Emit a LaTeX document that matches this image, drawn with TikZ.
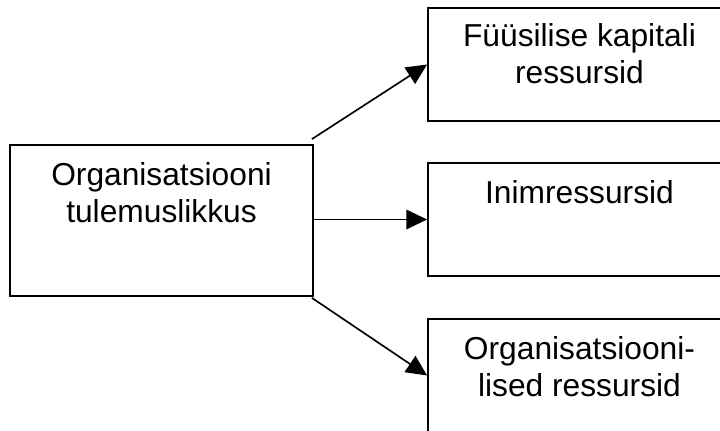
\documentclass[tikz,border=0pt]{standalone}
\usepackage{fontspec}
\setmainfont{Liberation Sans}
\usetikzlibrary{arrows.meta,calc}
\begin{document}
\begin{tikzpicture}[x=0.75pt,y=-0.75pt,
  box/.style={draw,line width=1.35pt,rectangle,inner sep=0pt},
  lbox/.style={box,minimum width=227.25pt,minimum height=113.25pt},
  rbox/.style={box,minimum width=227.25pt,minimum height=84.75pt},
  lbl/.style={anchor=north,inner sep=0pt,align=center,font=\fontsize{23.8pt}{27.5pt}\selectfont},
  arr/.style={line width=1.25pt,-{Triangle[length=15.5pt,width=14.5pt]}}]
\useasboundingbox (0,0) rectangle (720,430);
\node[lbox] (L) at (161.5,220.5) {};
\node[rbox] (R1) at (579.5,64.5) {};
\node[rbox] (R2) at (579.5,219.5) {};
\node[rbox] (R3) at (579.5,375.5) {};
\node[lbl] (Lt) at ($(L.north)+(0,18)$) {Organisatsiooni\\tulemuslikkus};
\node[lbl] (R1t) at ($(R1.north)+(0,16)$) {Füüsilise kapitali\\ressursid};
\node[lbl] (R2t) at ($(R2.north)+(0,18)$) {Inimressursid};
\node[lbl] (R3t) at ($(R3.north)+(0,18)$) {Organisatsiooni-\\lised ressursid};
\coordinate (a1) at ($(L.north east)+(-2,-5)$);
\coordinate (a3) at ($(L.south east)+(-2,1)$);
\draw[arr] (a1) -- (R1.west);
\draw[arr] (L.east |- R2.west) -- (R2.west);
\draw[arr] (a3) -- (R3.west);
\end{tikzpicture}
\end{document}
